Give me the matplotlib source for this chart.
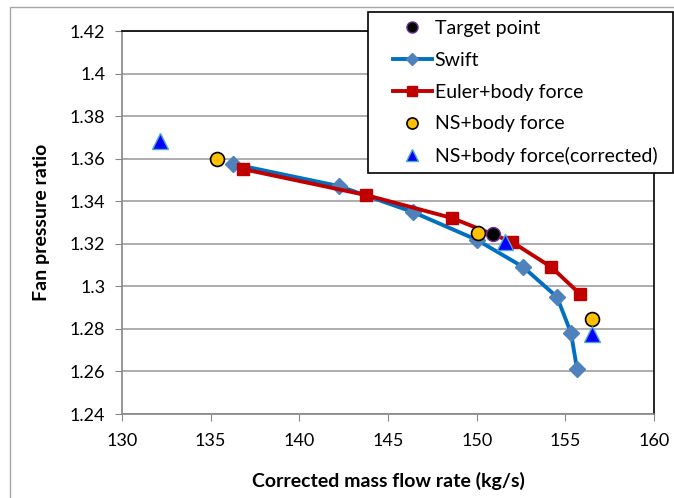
"""Fan pressure ratio vs corrected mass flow: Swift / Euler / NS body-force comparison."""

import matplotlib
matplotlib.use("Agg")
import matplotlib.pyplot as plt
from matplotlib.patches import Rectangle

plt.rcParams["font.family"] = ["Lato", "DejaVu Sans"]

# characteristic data (mass flow kg/s, pressure ratio)
swift_flow = [136.26, 142.24, 146.41, 150.02, 152.62, 154.53, 155.32, 155.66]
swift_pr = [1.3575, 1.3471, 1.3349, 1.3218, 1.3091, 1.2950, 1.2781, 1.2611]

euler_flow = [136.82, 143.76, 148.61, 152.00, 154.20, 155.83]
euler_pr = [1.3551, 1.3429, 1.3321, 1.3208, 1.3091, 1.2964]

ns_flow = [135.36, 150.08, 156.51]
ns_pr = [1.3598, 1.3251, 1.2846]

ns_corr_flow = [132.14, 151.60, 156.51]
ns_corr_pr = [1.3683, 1.3208, 1.2776]

target_flow = [150.92]
target_pr = [1.3246]

x_ticks = [130, 135, 140, 145, 150, 155, 160]
y_ticks = [1.24, 1.26, 1.28, 1.3, 1.32, 1.34, 1.36, 1.38, 1.4, 1.42]
y_labels = ["1.24", "1.26", "1.28", "1.3", "1.32", "1.34", "1.36", "1.38", "1.4", "1.42"]

W, H = 674, 498
fig = plt.figure(figsize=(W / 100, H / 100), dpi=100, facecolor="white")
# chart frame
fig.patches.append(Rectangle((10 / W, -0.05), 1.1, (H - 7) / H + 0.05,
                             transform=fig.transFigure, fill=False,
                             edgecolor="#a6a6a6", linewidth=1.0))
ax = fig.add_axes([122 / W, 84 / H, 532 / W, 383 / H])

ax.plot(swift_flow, swift_pr, color="#0070C0", linewidth=2.8, marker="D",
        markersize=8, markerfacecolor="#4F81BD", markeredgecolor="#4F81BD",
        label="Swift", zorder=3)
ax.plot(euler_flow, euler_pr, color="#C00000", linewidth=2.8, marker="s",
        markersize=9, markerfacecolor="#C00000", markeredgecolor="#C00000",
        label="Euler+body force", zorder=4)
ax.plot(ns_flow, ns_pr, linestyle="none", marker="o", markersize=10,
        markerfacecolor="#FFC000", markeredgecolor="black", markeredgewidth=1.2,
        label="NS+body force", zorder=5)
ax.plot(ns_corr_flow, ns_corr_pr, linestyle="none", marker="^", markersize=11,
        markerfacecolor="#0000FF", markeredgecolor="#4BACC6", markeredgewidth=1.0,
        label="NS+body force(corrected)", zorder=6)
ax.plot(target_flow, target_pr, linestyle="none", marker="o", markersize=10,
        markerfacecolor="black", markeredgecolor="#7030A0", markeredgewidth=1.0,
        label="Target point", zorder=6)

ax.set_xlim(130, 160)
ax.set_ylim(1.24, 1.42)
ax.set_xticks(x_ticks)
ax.set_yticks(y_ticks)
ax.set_yticklabels(y_labels)
ax.yaxis.grid(True, color="#a0a0a0", linewidth=1.2)
ax.set_axisbelow(True)
ax.tick_params(axis="both", direction="out", length=5, color="#868686",
               labelsize=13, colors="black")
ax.tick_params(axis="x", pad=9)
ax.tick_params(axis="y", pad=7)
for side in ("left", "bottom"):
    ax.spines[side].set_color("#868686")
    ax.spines[side].set_linewidth(1.2)
for side in ("top", "right"):
    ax.spines[side].set_color("black")
    ax.spines[side].set_linewidth(1.2)

ax.set_xlabel("Corrected mass flow rate (kg/s)", fontsize=14, fontweight="bold",
              labelpad=16)
ax.set_ylabel("Fan pressure ratio", fontsize=14, fontweight="bold", labelpad=14)

# legend box drawn separately so its padding can be set freely
fig.patches.append(Rectangle((368 / W, (H - 173) / H), 305 / W, 161 / H,
                             transform=fig.transFigure, facecolor="white",
                             edgecolor="black", linewidth=1.2, zorder=10))

handles, labels = ax.get_legend_handles_labels()
order = ["Target point", "Swift", "Euler+body force", "NS+body force",
         "NS+body force(corrected)"]
hmap = dict(zip(labels, handles))
leg = fig.legend([hmap[k] for k in order], order, loc="upper left",
                 bbox_to_anchor=(393 / W, (H - 20) / H), fontsize=14,
                 frameon=False, handlelength=2.0, labelspacing=0.76,
                 borderpad=0.0, borderaxespad=0.0, handletextpad=0.15,
                 markerscale=0.8)
leg.set_zorder(11)

fig.savefig("out.png", dpi=100, facecolor="white")
